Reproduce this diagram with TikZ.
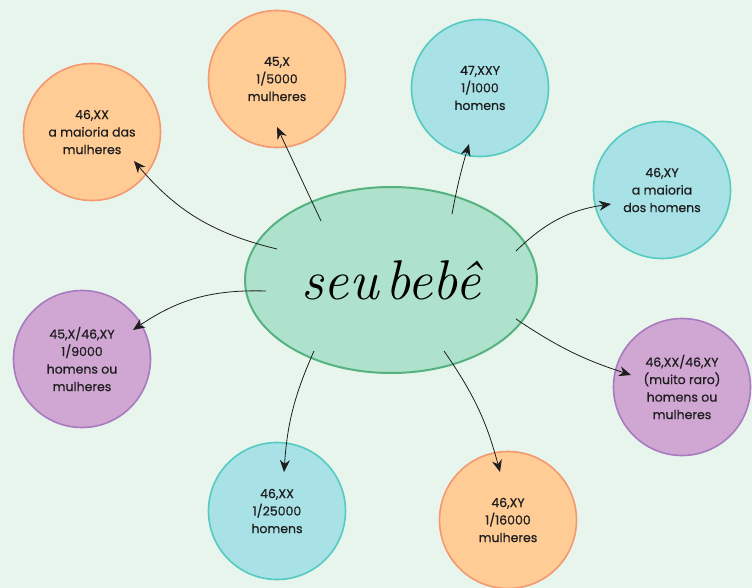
\documentclass[tikz,border=0pt]{standalone}
\usepackage{fontspec}
\setsansfont{Poppins}[UprightFeatures={FakeBold=0.6}]
\usetikzlibrary{arrows.meta,shapes.geometric}

\definecolor{fundo}{RGB}{232,245,236}
\definecolor{verdeF}{RGB}{174,226,204}
\definecolor{verdeB}{RGB}{86,178,128}
\definecolor{laranjaF}{RGB}{255,204,150}
\definecolor{laranjaB}{RGB}{244,152,112}
\definecolor{cianoF}{RGB}{168,226,230}
\definecolor{cianoB}{RGB}{84,202,192}
\definecolor{roxoF}{RGB}{208,166,211}
\definecolor{roxoB}{RGB}{168,122,190}
\definecolor{texto}{RGB}{30,30,30}

\begin{document}
\begin{tikzpicture}[x=1pt,y=-1pt,
    bolha/.style={circle, minimum size=137pt, inner sep=0pt, line width=1.6pt,
      align=center, text=texto, font=\sffamily\fontsize{12.5}{17.5}\selectfont},
    laranja/.style={bolha, fill=laranjaF, draw=laranjaB},
    ciano/.style={bolha, fill=cianoF, draw=cianoB},
    roxo/.style={bolha, fill=roxoF, draw=roxoB},
    seta/.style={-{Stealth[length=12pt,width=10pt]}, line width=0.8pt, draw=texto}]
    % background
    \useasboundingbox (0,0) rectangle (752,588);
    \fill[fundo] (-3,-3) rectangle (755,591);
    % centre
    \node[ellipse, minimum width=292pt, minimum height=186pt, inner sep=0pt,
      fill=verdeF, draw=verdeB, line width=2pt, text=black,
      font=\itshape\fontsize{56}{56}\selectfont] (bebe) at (391,280) {seu\hspace{0.12em}bebê};
    % bubbles
    \node[laranja] (xx) at (92,132) {46,XX\\a maioria das\\mulheres};
    \node[laranja] (x) at (277,79) {45,X\\1/5000\\mulheres};
    \node[ciano] (xxy) at (480,88) {47,XXY\\1/1000\\homens};
    \node[ciano] (xy) at (662,190) {46,XY\\a maioria\\dos homens};
    \node[roxo] (xxxy) at (682,387) {46,XX/46,XY\\(muito raro)\\homens ou\\mulheres};
    \node[laranja] (xyf) at (508,520) {46,XY\\1/16000\\mulheres};
    \node[ciano] (xxm) at (277,511) {46,XX\\1/25000\\homens};
    \node[roxo] (xmos) at (82,359) {45,X/46,XY\\1/9000\\homens ou\\mulheres};
    % arrow ends
    \coordinate (s1) at (277,249); \coordinate (t1) at (134,161);
    \coordinate (s2) at (321,221); \coordinate (t2) at (277,127);
    \coordinate (s3) at (452,214); \coordinate (t3) at (469,144);
    \coordinate (s4) at (516,251); \coordinate (t4) at (611,204);
    \coordinate (s5) at (516,319); \coordinate (t5) at (631,375);
    \coordinate (s6) at (444,351); \coordinate (t6) at (500,472);
    \coordinate (s7) at (314,351); \coordinate (t7) at (284,472);
    \coordinate (s8) at (266,291); \coordinate (t8) at (133,330);
    % arrows
    \draw[seta] (s1) to[bend left=18] (t1);
    \draw[seta] (s2) -- (t2);
    \draw[seta] (s3) to[bend left=3] (t3);
    \draw[seta] (s4) to[bend left=18] (t4);
    \draw[seta] (s5) to[bend right=8] (t5);
    \draw[seta] (s6) to[bend left=10] (t6);
    \draw[seta] (s7) to[bend right=10] (t7);
    \draw[seta] (s8) to[bend right=18] (t8);
\end{tikzpicture}
\end{document}
